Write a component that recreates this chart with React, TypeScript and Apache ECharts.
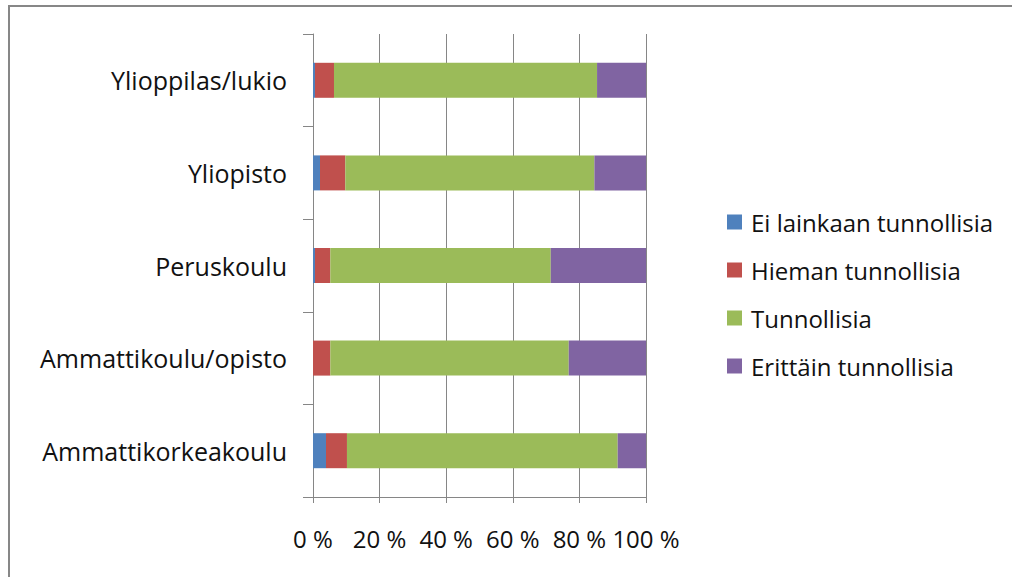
import React, { useEffect, useRef } from "react";
import * as echarts from "echarts";

const categories = ["Ammattikorkeakoulu", "Ammattikoulu/opisto", "Peruskoulu", "Yliopisto", "Ylioppilas/lukio"];
const seriesNames = ["Ei lainkaan tunnollisia", "Hieman tunnollisia", "Tunnollisia", "Erittäin tunnollisia"];
const eiLainkaan = [3.9, 0, 0.6, 2.1, 0.6];
const hieman = [6.3, 5.2, 4.6, 7.6, 5.7];
const tunnollisia = [81.3, 71.6, 66.2, 74.8, 79.0];
const erittain = [8.5, 23.2, 28.6, 15.5, 14.7];
const colors = ["#4F81BD", "#C0504D", "#9BBB59", "#8064A2"];
const xTicks = [0, 20, 40, 60, 80, 100];

const FONT = "'Open Sans', 'Noto Sans', sans-serif";

export default function App() {
  const ref = useRef<HTMLDivElement>(null);
  useEffect(() => {
    if (!ref.current) return;
    const chart = echarts.init(ref.current, undefined, { renderer: "svg" });
    const values = [eiLainkaan, hieman, tunnollisia, erittain];
    chart.setOption({
      animation: false,
      backgroundColor: "#ffffff",
      textStyle: { fontFamily: FONT },
      graphic: [
        {
          type: "rect",
          shape: { x: 9, y: 6, width: 1100, height: 700 },
          style: { fill: "none", stroke: "#878787", lineWidth: 2 },
          silent: true,
        },
      ],
      grid: { left: 313, right: 366, top: 34, bottom: 80, containLabel: false },
      legend: {
        orient: "vertical",
        left: 727,
        top: 209,
        padding: 0,
        itemWidth: 15,
        itemHeight: 15,
        itemGap: 22,
        icon: "rect",
        data: seriesNames,
        textStyle: { fontFamily: FONT, fontSize: 24, color: "#111", lineHeight: 26, padding: [0, 0, 0, 4] },
      },
      xAxis: {
        type: "value",
        min: xTicks[0],
        max: xTicks[xTicks.length - 1],
        interval: 20,
        axisLine: { show: true, lineStyle: { color: "#868686", width: 1 } },
        axisTick: { show: true, length: 6, lineStyle: { color: "#868686" } },
        splitLine: { show: true, lineStyle: { color: "#868686", width: 1 } },
        axisLabel: { formatter: "{value} %", fontFamily: FONT, fontSize: 24, color: "#111", margin: 29 },
      },
      yAxis: {
        type: "category",
        data: categories,
        axisLine: { show: true, lineStyle: { color: "#868686", width: 1 } },
        axisTick: { show: true, length: 10, lineStyle: { color: "#868686" } },
        axisLabel: { fontFamily: FONT, fontSize: 25, color: "#111", margin: 26 },
      },
      series: seriesNames.map((name, i) => ({
        name,
        type: "bar",
        stack: "total",
        barWidth: 35,
        itemStyle: { color: colors[i] },
        data: values[i],
      })),
    });
    return () => chart.dispose();
  }, []);
  return <div ref={ref} style={{ position: "absolute", left: 0, top: 0, width: 1012, height: 577 }} />;
}
